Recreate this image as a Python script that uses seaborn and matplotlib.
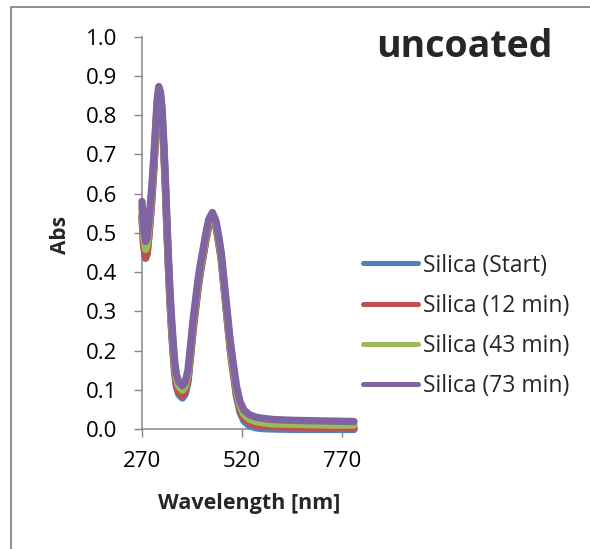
import numpy as np
import pandas as pd
import matplotlib
matplotlib.use("Agg")
import matplotlib.pyplot as plt
import seaborn as sns
from matplotlib.lines import Line2D

# UV-Vis absorbance spectra of the uncoated silica sample over time
wavelength = [270, 274, 279, 283, 287, 291, 295, 300, 304, 308,
              312, 316, 320, 324, 328, 332, 336, 340, 344, 348,
              352, 356, 362, 371, 378, 385, 392, 398, 404, 410,
              416, 423, 430, 437, 446, 455, 462, 468, 474, 480,
              485, 490, 495, 502, 506, 515, 525, 539, 555, 572,
              600, 650, 700, 750, 800]

abs_start = [0.540, 0.468, 0.435, 0.447, 0.490, 0.538, 0.590, 0.670, 0.746, 0.820,
             0.856, 0.845, 0.802, 0.720, 0.628, 0.515, 0.413, 0.321, 0.250, 0.189,
             0.139, 0.108, 0.088, 0.079, 0.089, 0.121, 0.192, 0.254, 0.306, 0.357,
             0.400, 0.442, 0.483, 0.520, 0.539, 0.516, 0.474, 0.433, 0.371, 0.310,
             0.258, 0.207, 0.165, 0.114, 0.084, 0.043, 0.020, 0.008, 0.003, 0.001,
             0.000, -0.001, -0.001, -0.001, -0.001]

abs_12min = [0.545, 0.472, 0.438, 0.450, 0.492, 0.540, 0.592, 0.672, 0.748, 0.822,
             0.858, 0.846, 0.803, 0.722, 0.630, 0.518, 0.417, 0.326, 0.256, 0.195,
             0.145, 0.115, 0.095, 0.085, 0.095, 0.126, 0.196, 0.257, 0.308, 0.359,
             0.401, 0.442, 0.483, 0.519, 0.537, 0.515, 0.474, 0.434, 0.373, 0.313,
             0.262, 0.211, 0.170, 0.120, 0.090, 0.050, 0.028, 0.016, 0.010, 0.008,
             0.006, 0.005, 0.004, 0.004, 0.003]

abs_43min = [0.565, 0.492, 0.458, 0.470, 0.512, 0.560, 0.612, 0.690, 0.762, 0.834,
             0.866, 0.854, 0.812, 0.732, 0.641, 0.530, 0.430, 0.339, 0.269, 0.209,
             0.159, 0.129, 0.109, 0.099, 0.109, 0.140, 0.210, 0.270, 0.321, 0.371,
             0.412, 0.452, 0.492, 0.528, 0.545, 0.523, 0.482, 0.442, 0.381, 0.321,
             0.271, 0.220, 0.180, 0.130, 0.100, 0.060, 0.037, 0.025, 0.019, 0.016,
             0.013, 0.012, 0.011, 0.010, 0.010]

abs_73min = [0.580, 0.510, 0.478, 0.490, 0.530, 0.575, 0.625, 0.700, 0.770, 0.840,
             0.873, 0.860, 0.820, 0.740, 0.650, 0.540, 0.440, 0.350, 0.280, 0.220,
             0.170, 0.140, 0.120, 0.110, 0.120, 0.150, 0.220, 0.280, 0.330, 0.380,
             0.420, 0.460, 0.500, 0.535, 0.552, 0.530, 0.490, 0.450, 0.390, 0.330,
             0.280, 0.230, 0.190, 0.140, 0.110, 0.070, 0.048, 0.036, 0.030, 0.027,
             0.024, 0.022, 0.021, 0.020, 0.019]

series_names = ["Silica (Start)", "Silica (12 min)", "Silica (43 min)", "Silica (73 min)"]
series_values = [abs_start, abs_12min, abs_43min, abs_73min]
series_colors = ["#4F81BD", "#C0504D", "#9BBB59", "#8064A2"]

x_ticks = [270, 520, 770]
y_ticks = [0.0, 0.1, 0.2, 0.3, 0.4, 0.5, 0.6, 0.7, 0.8, 0.9, 1.0]

frames = [pd.DataFrame({"Wavelength": wavelength, "Abs": vals, "Sample": name})
          for name, vals in zip(series_names, series_values)]
df = pd.concat(frames, ignore_index=True)

sns.set_theme(style="white")
plt.rcParams["font.family"] = ["Open Sans", "DejaVu Sans"]

W, H = 590, 549
fig = plt.figure(figsize=(W / 100, H / 100), dpi=100)
ax = fig.add_axes([142 / W, 1 - 429 / H, (356 - 142) / W, (429 - 36.7) / H])

sns.lineplot(data=df, x="Wavelength", y="Abs", hue="Sample",
             hue_order=series_names, palette=series_colors,
             sort=False, linewidth=5.3, ax=ax, legend=False)
for line in ax.lines:
    line.set_clip_on(False)
    line.set_solid_capstyle("round")
    line.set_solid_joinstyle("round")

ax.set_xlim(270, 805)
ax.set_ylim(0, 1.0)
ax.set_xticks(x_ticks)
ax.set_yticks(y_ticks)
ax.set_yticklabels([f"{v:.1f}" for v in y_ticks])
ax.set_xlabel("")
ax.set_ylabel("")

axis_gray = "#868686"
for side in ["top", "right"]:
    ax.spines[side].set_visible(False)
for side in ["left", "bottom"]:
    ax.spines[side].set_color(axis_gray)
    ax.spines[side].set_linewidth(1.1)
    ax.spines[side].set_zorder(0)
ax.tick_params(axis="both", direction="out", length=5.5, width=1.0,
               color=axis_gray, labelsize=16, labelcolor="black")
ax.tick_params(axis="y", pad=12.5, left=True)
ax.tick_params(axis="x", pad=10, bottom=True)

# axis titles and chart title
fig.text(61 / W, 1 - 235 / H, "Abs", rotation=90, fontsize=15,
         fontweight="bold", ha="center", va="center")
fig.text(249 / W, 1 - 503 / H, "Wavelength [nm]", fontsize=15.5,
         fontweight="bold", ha="center", va="center")
fig.text(464 / W, 1 - 57 / H, "uncoated", fontsize=27,
         fontweight="bold", ha="center", va="baseline")

# legend
handles = [Line2D([0], [0], color=c, linewidth=3.6, solid_capstyle="round")
           for c in series_colors]
fig.legend(handles, series_names, loc="upper left",
           bbox_to_anchor=(363 / W, 1 - 253.5 / H), bbox_transform=fig.transFigure,
           frameon=False, fontsize=16.5, handlelength=2.4, handletextpad=0.2,
           labelspacing=0.7, borderpad=0, borderaxespad=0)

# chart area border (left and top edges)
fig.add_artist(Line2D([10.5 / W, 10.5 / W], [0, 1 - 6.5 / H],
                      transform=fig.transFigure, color=axis_gray, linewidth=1.3))
fig.add_artist(Line2D([10.5 / W, 1], [1 - 6.5 / H, 1 - 6.5 / H],
                      transform=fig.transFigure, color=axis_gray, linewidth=1.3))

fig.savefig("out.png", dpi=100)
